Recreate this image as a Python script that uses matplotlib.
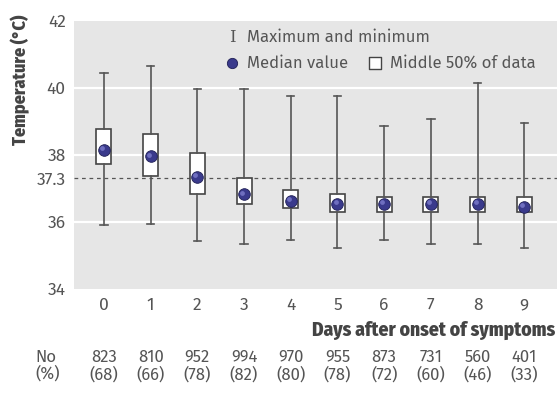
import matplotlib
matplotlib.use("Agg")
import matplotlib.pyplot as plt

# Body temperature by day after onset of symptoms
days = [0, 1, 2, 3, 4, 5, 6, 7, 8, 9]
t_max = [40.46, 40.66, 39.97, 39.97, 39.76, 39.76, 38.87, 39.06, 40.16, 38.95]
t_q3 = [38.78, 38.64, 38.06, 37.32, 36.95, 36.85, 36.75, 36.75, 36.75, 36.75]
t_median = [38.15, 37.96, 37.35, 36.83, 36.63, 36.55, 36.55, 36.55, 36.55, 36.45]
t_q1 = [37.73, 37.36, 36.83, 36.53, 36.43, 36.31, 36.31, 36.31, 36.31, 36.31]
t_min = [35.92, 35.93, 35.43, 35.35, 35.45, 35.23, 35.45, 35.35, 35.35, 35.23]
n_patients = [823, 810, 952, 994, 970, 955, 873, 731, 560, 401]
n_percent = [68, 66, 78, 82, 80, 78, 72, 60, 46, 33]
y_ticks = [34, 36, 37.3, 38, 40, 42]
threshold = 37.3

TXT = "#555555"
LINE = "#555555"
FONT = ["Fira Sans", "DejaVu Sans"]
BOLD = ["Fira Sans Condensed", "DejaVu Sans"]

plt.rcParams["font.family"] = FONT

fig = plt.figure(figsize=(5.57, 4.01), dpi=100)
ax = fig.add_axes([0.1329, 0.2793, 0.8671, 0.6683])
ax.set_facecolor("#e6e6e6")
for s in ax.spines.values():
    s.set_visible(False)

stats = []
for i in range(len(days)):
    stats.append({"whislo": t_min[i], "q1": t_q1[i], "med": t_median[i],
                  "q3": t_q3[i], "whishi": t_max[i], "fliers": []})

ax.bxp(stats, positions=days, widths=0.32, patch_artist=True, showfliers=False,
       boxprops=dict(facecolor="white", edgecolor="#444444", linewidth=1.2),
       whiskerprops=dict(color=LINE, linewidth=1.2),
       capprops=dict(color=LINE, linewidth=1.2), capwidths=0.16,
       medianprops=dict(linewidth=0), zorder=3)
ax.scatter(days, t_median, s=70, color="#3a3a8c", edgecolor="#1f1f55",
           linewidth=0.6, zorder=5)
ax.scatter([d - 0.04 for d in days], [m + 0.05 for m in t_median], s=12,
           color="#6f6fc0", linewidth=0, zorder=6)

for g in [36, 38, 40]:
    ax.axhline(g, color="white", linewidth=1.6, zorder=1)
ax.axhline(threshold, color="#555555", linewidth=0.9, linestyle=(0, (3, 3)), zorder=2)

ax.set_xlim(-0.64, 9.7)
ax.set_ylim(34, 42)
ax.set_yticks(y_ticks)
ax.set_yticklabels([str(t) for t in y_ticks])
ax.set_xticks(days)
ax.tick_params(length=0, labelsize=12.5, labelcolor=TXT, pad=6)

fig.text(0.037, 0.80, "Temperature (°C)", rotation=90, ha="center", va="center",
         fontsize=13, fontweight=800, color="#444444", family=BOLD)
fig.text(0.997, 0.177, "Days after onset of symptoms", ha="right", va="center",
         fontsize=14, fontweight=800, color="#444444", family=BOLD)

# counts below the axis
tr = ax.get_xaxis_transform()
for d, n, p in zip(days, n_patients, n_percent):
    ax.text(d, -0.255, str(n), transform=tr, ha="center", va="center",
            fontsize=12, color=TXT, clip_on=False)
    ax.text(d, -0.318, "(%d)" % p, transform=tr, ha="center", va="center",
            fontsize=12, color=TXT, clip_on=False)
fig.text(0.063, 0.110, "No", ha="left", va="center", fontsize=12, color=TXT)
fig.text(0.063, 0.068, "(%)", ha="left", va="center", fontsize=12, color=TXT)

# key
ax.text(0.327, 0.940, "I", transform=ax.transAxes, ha="center", va="center",
        fontsize=12, color=TXT, family="DejaVu Serif")
ax.text(0.358, 0.940, "Maximum and minimum", transform=ax.transAxes,
        ha="left", va="center", fontsize=12, color=TXT)
ax.scatter([0.327], [0.843], s=55, color="#3a3a8c", edgecolor="#1f1f55",
           linewidth=0.6, transform=ax.transAxes, zorder=6)
ax.text(0.358, 0.843, "Median value", transform=ax.transAxes,
        ha="left", va="center", fontsize=12, color=TXT)
ax.scatter([0.623], [0.843], s=80, marker="s", color="white", edgecolor="#444444",
           linewidth=1.0, transform=ax.transAxes, zorder=6)
ax.text(0.654, 0.843, "Middle 50% of data", transform=ax.transAxes,
        ha="left", va="center", fontsize=12, color=TXT)

fig.savefig("out.png", dpi=100)
